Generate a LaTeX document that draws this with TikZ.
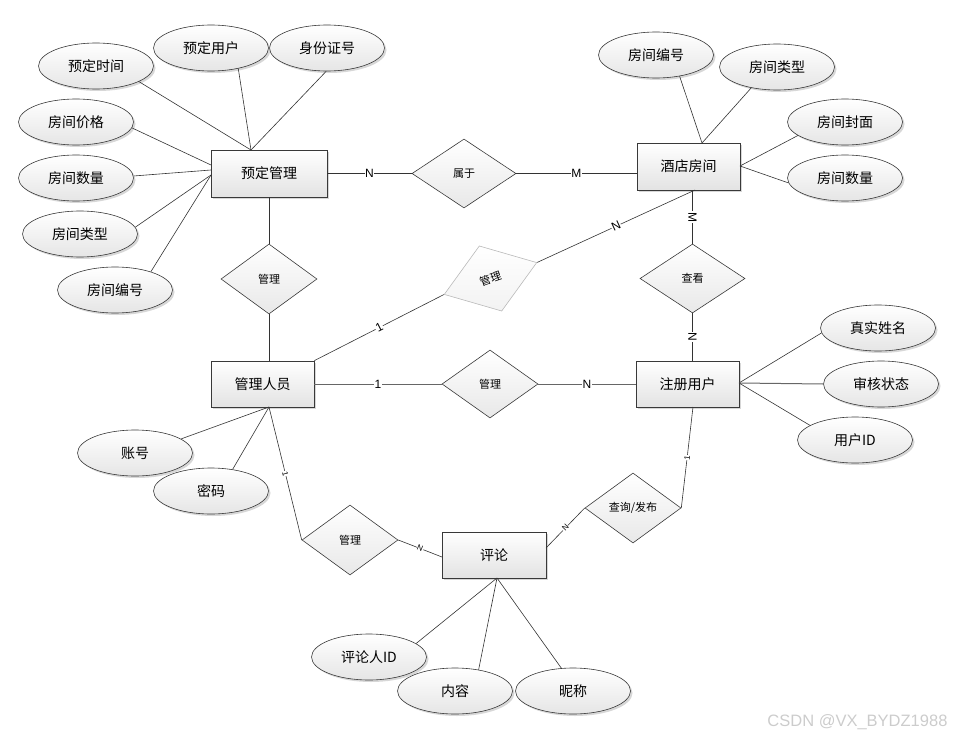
\documentclass[tikz,border=0pt]{standalone}
\usepackage{fontspec}
\setmainfont{Noto Sans CJK SC}
\newfontfamily\latfont{Liberation Sans}
\usetikzlibrary{shapes.geometric,shadows,calc}
\begin{document}
\begin{tikzpicture}[x=1pt,y=-1pt,
  shad/.style={drop shadow={shadow xshift=2pt,shadow yshift=-2pt,fill=gray!70,opacity=.45}},
  ent/.style={rectangle, draw=gray!45!black, line width=0.8pt, top color=white, bottom color=gray!22,
     minimum height=47pt, inner sep=0pt, font=\fontsize{14}{16}\selectfont, shad},
  attr/.style={ellipse, draw=gray!45!black, line width=0.6pt, top color=white, bottom color=gray!20,
     minimum width=115pt, minimum height=46pt, inner sep=0pt, font=\fontsize{14}{16}\selectfont, shad},
  rel/.style={diamond, draw=gray!45!black, line width=0.6pt, top color=white, bottom color=gray!18,
     minimum width=96pt, minimum height=70pt, inner sep=0pt, font=\fontsize{11}{13}\selectfont},
  lnk/.style={draw=black!80, line width=0.6pt},
  lnkg/.style={draw=gray!80!black, line width=1pt},
  card/.style={fill=white, inner sep=0.6pt, font=\latfont\fontsize{12}{14}\selectfont},
  cards/.style={fill=white, inner sep=0.4pt, font=\latfont\fontsize{8}{9}\selectfont}
]
\useasboundingbox (0,0) rectangle (954,736);

% entities
\node[ent, minimum width=116pt] (yd) at (269,173.5) {预定管理};
\node[ent, minimum width=103pt] (jd) at (688.5,166.5) {酒店房间};
\node[ent, minimum width=103pt, minimum height=46pt] (gl) at (262.5,384) {管理人员};
\node[ent, minimum width=103pt, minimum height=46pt] (zc) at (687.5,384) {注册用户};
\node[ent, minimum width=104pt, minimum height=46pt] (pl) at (494,555) {评论};

% relations
\node[rel, minimum width=104pt, minimum height=69pt] (sy) at (464,173.5) {属于};
\node[rel] (glA) at (269,279) {管理};
\node[rel, minimum width=105pt, minimum height=69pt] (ck) at (692.5,278.5) {查看};
\node[rel, minimum height=68pt] (glM) at (490,384) {管理};
\node[rel] (glB) at (350,540) {管理};
\node[rel] (cx) at (633,508) {查询/发布};
\node[rel, rotate=19, draw=gray!55, bottom color=gray!10, minimum width=98pt, minimum height=69pt] (glS) at (490.5,278.5) {管理};

% attributes
\node[attr] (t1) at (96,66) {预定时间};
\node[attr] (t2) at (211,48) {预定用户};
\node[attr] (t3) at (327,48) {身份证号};
\node[attr] (t4) at (76,122) {房间价格};
\node[attr] (t5) at (76,178) {房间数量};
\node[attr] (t6) at (80,234) {房间类型};
\node[attr] (t7) at (115,290) {房间编号};
\node[attr] (h1) at (656,55) {房间编号};
\node[attr] (h2) at (777,67) {房间类型};
\node[attr] (h3) at (845,122) {房间封面};
\node[attr] (h4) at (845,178) {房间数量};
\node[attr] (u1) at (878,328) {真实姓名};
\node[attr] (u2) at (881,384) {审核状态};
\node[attr] (u3) at (855,440) {用户ID};
\node[attr] (a1) at (135,453) {账号};
\node[attr] (a2) at (211,491) {密码};
\node[attr] (c1) at (369,657) {评论人ID};
\node[attr] (c2) at (455,691) {内容};
\node[attr] (c3) at (573,691) {昵称};

% attachment points
\coordinate (pA) at (251,150);
\coordinate (pB1) at (211,165);
\coordinate (pB2) at (211,170);
\coordinate (pB3) at (211,175);
\coordinate (pC) at (702,143);
\coordinate (pD) at (740,166);
\coordinate (pE) at (739,383);
\coordinate (pF) at (269,407);
\coordinate (pG) at (497,578);
\coordinate (pH) at (695,190);
\coordinate (pI) at (442,557);
\coordinate (pJ) at (546,548);
\coordinate (pK) at (693,407);

% attribute links
\draw[lnk] (t1.-20) -- (pA);
\draw[lnk] (t2.-37) -- (pA);
\draw[lnk] (t3.-92) -- (pA);
\draw[lnk] (t4.-6) -- (pB1);
\draw[lnk] (t5.2) -- (pB2);
\draw[lnk] (t6.7) -- (pB3);
\draw[lnk] (t7.27) -- (pB3);
\draw[lnk] (h1.-42) -- (pC);
\draw[lnk] (h2.-141) -- (pC);
\draw[lnk] (h3.-164) -- (pD);
\draw[lnk] (h4.185) -- (pD);
\draw[lnk] (u1.185) -- (pE);
\draw[lnkg] (u2.west) -- (pE);
\draw[lnk] (u3.162) -- (pE);
\draw[lnk] (a1.17) -- (pF);
\draw[lnk] (a2.45) -- (pF);
\draw[lnk] (c1.16) -- (pG);
\draw[lnk] (c2.42) -- (pG);
\draw[lnk] (c3.117) -- (pG);

% relationship links
\draw[lnk] (yd.east) -- node[card] {N} (sy.west);
\draw[lnk] (sy.east) -- node[card] {M} (sy.east -| jd.west);
\draw[lnk] (yd.south -| glA.north) -- (glA.north);
\draw[lnk] (glA.south) -- (glA.south |- gl.north);
\draw[lnk] (ck.north |- jd.south) -- node[card, rotate=-90] {M} (ck.north);
\draw[lnk] (ck.south) -- node[card, rotate=-90] {N} (ck.south |- zc.north);
\draw[lnk] (gl.north east) -- node[card, rotate=27] {1} (glS.west);
\draw[lnk] (glS.east) -- node[card, rotate=25] {N} (pH);
\draw[lnkg] (gl.east) -- node[card] {1} (glM.west);
\draw[lnkg] (glM.east) -- node[card] {N} (zc.west);
\draw[lnk] (pF) -- node[cards, rotate=-76] {1} (glB.west);
\draw[lnk] (glB.east) -- node[cards, rotate=-22] {N} (pI);
\draw[lnk] (pJ) -- node[cards, rotate=46] {N} (cx.west);
\draw[lnk] (cx.east) -- node[cards, rotate=83] {1} (pK);

% watermark
\node[anchor=base east, font=\latfont\fontsize{16.5}{17}\selectfont, text=gray!40] (wm) at (951,726) {CSDN @VX\_BYDZ1988};
\end{tikzpicture}
\end{document}
